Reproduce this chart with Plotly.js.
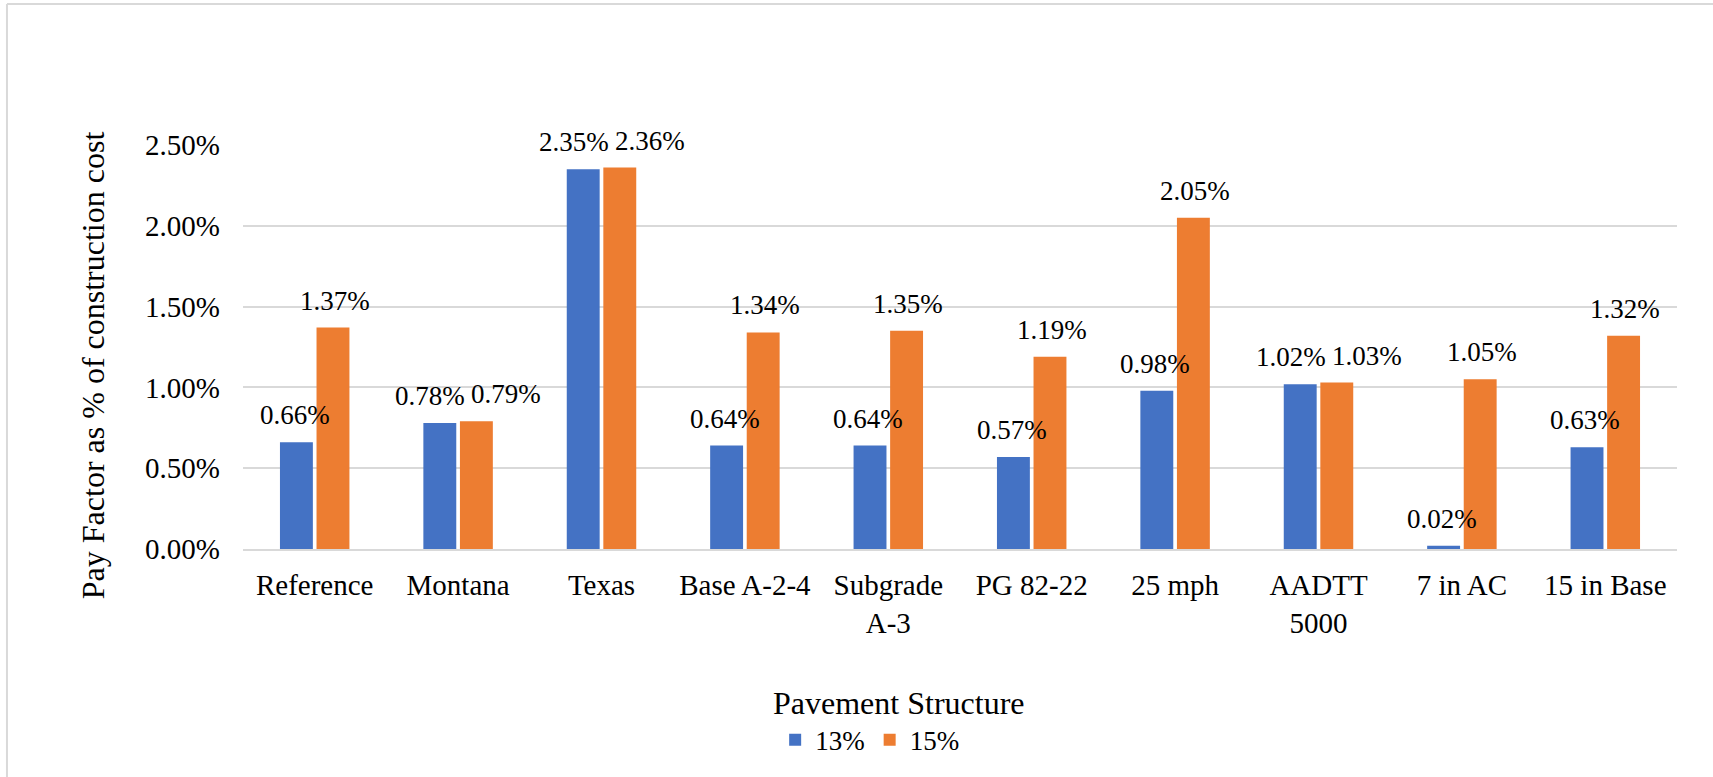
<!DOCTYPE html>
<html>
<head>
<meta charset="utf-8">
<script src="https://cdn.plot.ly/plotly-3.0.1.min.js"></script>
<style>
  html, body { margin: 0; padding: 0; background: #fff; }
  #chart { width: 1713px; height: 777px; }
</style>
</head>
<body>
<div id="chart"></div>
<script>
const categories = ["Reference", "Montana", "Texas", "Base A-2-4", "Subgrade<br>A-3", "PG 82-22", "25 mph", "AADTT<br>5000", "7 in AC", "15 in Base"];
const seriesNames = ["13%", "15%"];
const values13 = [0.0066, 0.0078, 0.0235, 0.0064, 0.0064, 0.0057, 0.0098, 0.0102, 0.0002, 0.0063];
const values15 = [0.0137, 0.0079, 0.0236, 0.0134, 0.0135, 0.0119, 0.0205, 0.0103, 0.0105, 0.0132];
const yTickVals = [0, 0.005, 0.01, 0.015, 0.02, 0.025];
const yTickText = ["0.00%", "0.50%", "1.00%", "1.50%", "2.00%", "2.50%"];
const xTitle = "Pavement Structure";
const yTitle = "Pay Factor as % of construction cost";

const FONT = "Liberation Serif";
const BLUE = "#4472C4";
const ORANGE = "#ED7D31";
const GRID = "#D9D9D9";

const traces = [
  { type: "bar", name: seriesNames[0], x: categories, y: values13, marker: { color: BLUE }, hoverinfo: "none" },
  { type: "bar", name: seriesNames[1], x: categories, y: values15, marker: { color: ORANGE }, hoverinfo: "none" }
];

function fmt(v) { return (v * 100).toFixed(2) + "%"; }

// data labels: centred on their bar, pushed apart (like Excel) when the pair would collide
const annotations = [];
const offset = 20;
categories.forEach((c, i) => {
  const close = Math.abs(values13[i] - values15[i]) < 0.0019;
  const shifts = close ? [-28, 48] : [-offset, offset];
  [values13[i], values15[i]].forEach((v, si) => {
    annotations.push({
      xref: "x", yref: "y", x: c, y: v,
      xshift: shifts[si], yshift: 27,
      text: fmt(v), showarrow: false, xanchor: "center", yanchor: "middle",
      font: { family: FONT, size: 27, color: "#000" }
    });
  });
});
annotations.push({
  xref: "paper", yref: "paper", x: 0.4568, y: -0.381,
  text: xTitle, showarrow: false, xanchor: "center", yanchor: "middle",
  font: { family: FONT, size: 32, color: "#000" }
});
annotations.push({
  xref: "paper", yref: "paper", x: -0.1046, y: 0.455,
  text: yTitle, showarrow: false, xanchor: "center", yanchor: "middle", textangle: -90,
  font: { family: FONT, size: 32, color: "#000" }
});

const layout = {
  width: 1713, height: 777,
  margin: { l: 243, r: 36, t: 145, b: 228 },
  paper_bgcolor: "#fff", plot_bgcolor: "#fff",
  font: { family: FONT, size: 27, color: "#000" },
  barmode: "group", bargap: 0.49, bargroupgap: 0.1,
  showlegend: true,
  legend: {
    orientation: "h", x: 0.437, y: -0.473, xanchor: "center", yanchor: "middle",
    font: { family: FONT, size: 27, color: "#000" }, itemwidth: 30, tracegroupgap: 0
  },
  xaxis: {
    type: "category", showgrid: false, zeroline: false,
    showline: true, linecolor: GRID, linewidth: 2,
    ticks: "", ticklabelstandoff: 9,
    tickfont: { family: FONT, size: 29, color: "#000" }
  },
  yaxis: {
    range: [0, 0.025], tickvals: yTickVals, ticktext: yTickText,
    showgrid: true, gridcolor: GRID, gridwidth: 2, zeroline: false,
    showline: false, ticks: "", ticklabelstandoff: 22,
    tickfont: { family: FONT, size: 29, color: "#000" }
  },
  annotations: annotations,
  shapes: [
    { type: "line", xref: "paper", yref: "paper", x0: -0.1646, x1: -0.1646, y0: 1.349, y1: -0.6, line: { color: GRID, width: 2 } },
    { type: "line", xref: "paper", yref: "paper", x0: -0.1646, x1: 1.1, y0: 1.349, y1: 1.349, line: { color: GRID, width: 2 } }
  ]
};

Plotly.newPlot("chart", traces, layout, { displayModeBar: false, staticPlot: true });
</script>
</body>
</html>
